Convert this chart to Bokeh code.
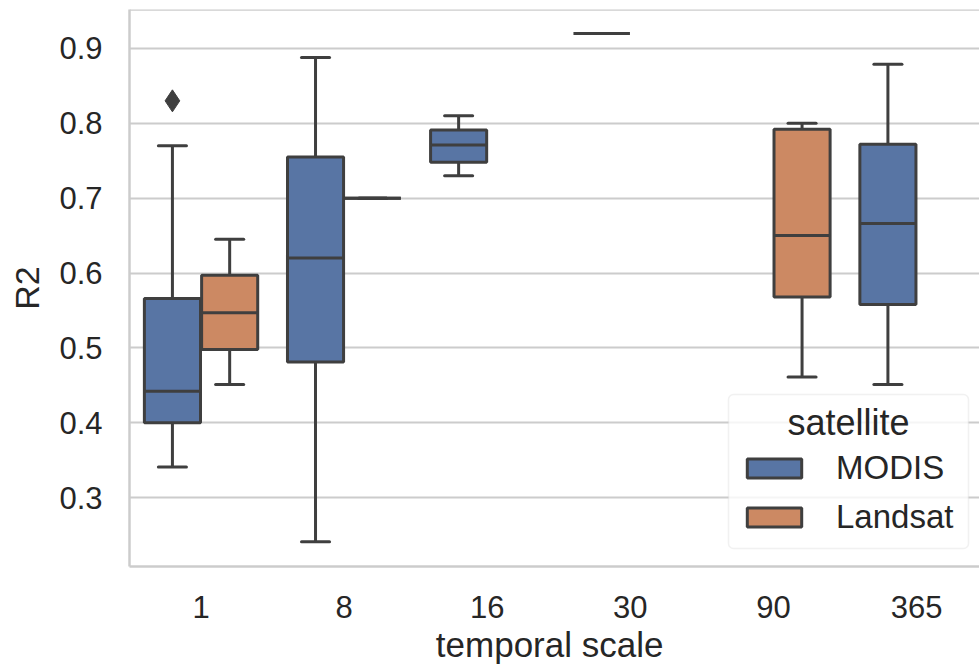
import numpy as np
from bokeh.plotting import figure
from bokeh.models import (Range1d, FixedTicker, Span, ColumnDataSource, Legend, LegendItem,
                          Label, BoxAnnotation)
from bokeh.embed import file_html
from bokeh.resources import INLINE

# ---------------- data ----------------
categories = ["1", "8", "16", "30", "90", "365"]
satellites = ["MODIS", "Landsat"]
sat_colors = ["#5875a4", "#cc8963"]
hue_offsets = [-0.2, 0.2]
legend_title = "satellite"

box_category = ["1", "1", "8", "8", "16", "30", "90", "365"]
box_satellite = ["MODIS", "Landsat", "MODIS", "Landsat", "MODIS", "MODIS", "Landsat", "MODIS"]
whisker_low = [0.341, 0.451, 0.241, 0.700, 0.730, 0.920, 0.461, 0.451]
q1 = [0.400, 0.498, 0.481, 0.700, 0.748, 0.920, 0.568, 0.558]
median = [0.442, 0.547, 0.620, 0.700, 0.771, 0.920, 0.650, 0.666]
q3 = [0.566, 0.597, 0.755, 0.700, 0.791, 0.920, 0.792, 0.772]
whisker_high = [0.770, 0.645, 0.888, 0.700, 0.810, 0.920, 0.800, 0.879]

outlier_category = ["1"]
outlier_satellite = ["MODIS"]
outlier_value = [0.83]

y_ticks = [0.3, 0.4, 0.5, 0.6, 0.7, 0.8, 0.9]
y_tick_labels = ["0.3", "0.4", "0.5", "0.6", "0.7", "0.8", "0.9"]

# ---------------- derived positions ----------------
box_w = 0.392
cap_w = 0.196
ink = "#3f3f3f"
LW = 3
FONT = "Liberation Sans"

def xpos(cats, sats):
    return np.array([categories.index(c) + hue_offsets[satellites.index(s)]
                     for c, s in zip(cats, sats)])

bx = xpos(box_category, box_satellite)
src = ColumnDataSource(dict(
    x=bx,
    x0=bx - box_w / 2, x1=bx + box_w / 2,
    c0=bx - cap_w / 2, c1=bx + cap_w / 2,
    lo=whisker_low, q1=q1, med=median, q3=q3, hi=whisker_high,
    satellite=box_satellite,
    color=[sat_colors[satellites.index(s)] for s in box_satellite],
))

p = figure(width=979, height=669,
           x_range=Range1d(-0.5, 5.44), y_range=Range1d(0.208, 0.952),
           output_backend="svg", toolbar_location=None,
           min_border_left=129, min_border_right=0,
           min_border_top=9, min_border_bottom=103)
p.background_fill_color = "white"
p.border_fill_color = "white"
p.outline_line_color = None

# grid
p.xgrid.visible = False
p.ygrid.ticker = FixedTicker(ticks=y_ticks)
p.ygrid.grid_line_color = "#cccccc"
p.ygrid.grid_line_width = 1.8

# axes
p.xaxis.ticker = FixedTicker(ticks=list(range(len(categories))))
p.xaxis.major_label_overrides = {i: c for i, c in enumerate(categories)}
p.yaxis.ticker = FixedTicker(ticks=y_ticks)
p.yaxis.major_label_overrides = {t: l for t, l in zip(y_ticks, y_tick_labels)}
for ax in (p.xaxis, p.yaxis):
    ax.axis_line_color = "#cccccc"
    ax.axis_line_width = 2.5
    ax.major_tick_line_color = None
    ax.minor_tick_line_color = None
    ax.major_label_text_font = FONT
    ax.major_label_text_font_size = "31px"
    ax.major_label_text_color = "#262626"
    ax.axis_label_text_font = FONT
    ax.axis_label_text_font_style = "normal"
    ax.axis_label_text_color = "#262626"
p.xaxis.major_label_standoff = 23
p.yaxis.major_label_standoff = 21
p.xaxis.axis_label = "temporal  scale"
p.xaxis.axis_label_text_font_size = "35px"
p.xaxis.axis_label_standoff = 4
p.yaxis.axis_label = "R2"
p.yaxis.axis_label_text_font_size = "34px"
p.yaxis.axis_label_standoff = 10

# top border
p.add_layout(Span(location=0.952, dimension="width", line_color="#cccccc", line_width=2.5))

# whiskers and caps
p.segment(x0="x", x1="x", y0="q3", y1="hi", source=src, line_color=ink, line_width=LW)
p.segment(x0="x", x1="x", y0="lo", y1="q1", source=src, line_color=ink, line_width=LW)
p.segment(x0="c0", x1="c1", y0="hi", y1="hi", source=src, line_color=ink, line_width=LW, line_cap="round")
p.segment(x0="c0", x1="c1", y0="lo", y1="lo", source=src, line_color=ink, line_width=LW, line_cap="round")

# boxes
boxes = p.vbar(x="x", width=box_w, bottom="q1", top="q3", source=src,
               fill_color="color", line_color=ink, line_width=LW)
p.segment(x0="x0", x1="x1", y0="med", y1="med", source=src, line_color=ink, line_width=LW)

# outliers
ox = xpos(outlier_category, outlier_satellite)
p.scatter(x=ox, y=outlier_value, marker="diamond", size=22,
          fill_color=ink, line_color=ink)

# legend frame (drawn as a translucent rounded box behind the entries)
LEG_X, LEG_Y = 599, 18          # screen offset from frame bottom-left
GLYPH_W, STANDOFF, LABEL_W, PAD = 68, 28, 120, 12
LEG_W = 2 * PAD + GLYPH_W + STANDOFF + LABEL_W
LEG_H = 154
p.add_layout(BoxAnnotation(left=LEG_X, right=LEG_X + LEG_W,
                           bottom=LEG_Y, top=LEG_Y + LEG_H,
                           left_units="screen", right_units="screen",
                           bottom_units="screen", top_units="screen",
                           fill_color="white", fill_alpha=0.8,
                           line_color="#d0d0d0", line_width=1.5,
                           border_radius=5, editable=False))

# centred legend title
p.add_layout(Label(x=LEG_X + LEG_W / 2, y=LEG_Y + LEG_H - 28,
                   x_units="screen", y_units="screen",
                   text=legend_title, text_align="center", text_baseline="middle",
                   text_font=FONT, text_font_size="36px", text_color="#262626"))

# legend entries (MODIS first, as in the reference); padding collapses
# without a border, so the entries are offset by PAD explicitly
items = [LegendItem(label=s, renderers=[boxes], index=box_satellite.index(s))
         for s in satellites]
leg = Legend(items=items, location=(LEG_X + PAD, LEG_Y + PAD))
leg.title = " "                  # reserves room for the centred title
leg.title_text_font = FONT
leg.title_text_font_size = "34px"
leg.title_standoff = 2
leg.label_text_font = FONT
leg.label_text_font_size = "33px"
leg.label_text_color = "#262626"
leg.glyph_width = GLYPH_W
leg.glyph_height = 24
leg.label_standoff = STANDOFF
leg.label_width = LABEL_W
leg.label_height = 33
leg.spacing = 11
leg.padding = PAD
leg.margin = 0
leg.border_line_color = None
leg.background_fill_alpha = 0
p.add_layout(leg, "center")

open("out.html", "w").write(file_html(p, INLINE))
